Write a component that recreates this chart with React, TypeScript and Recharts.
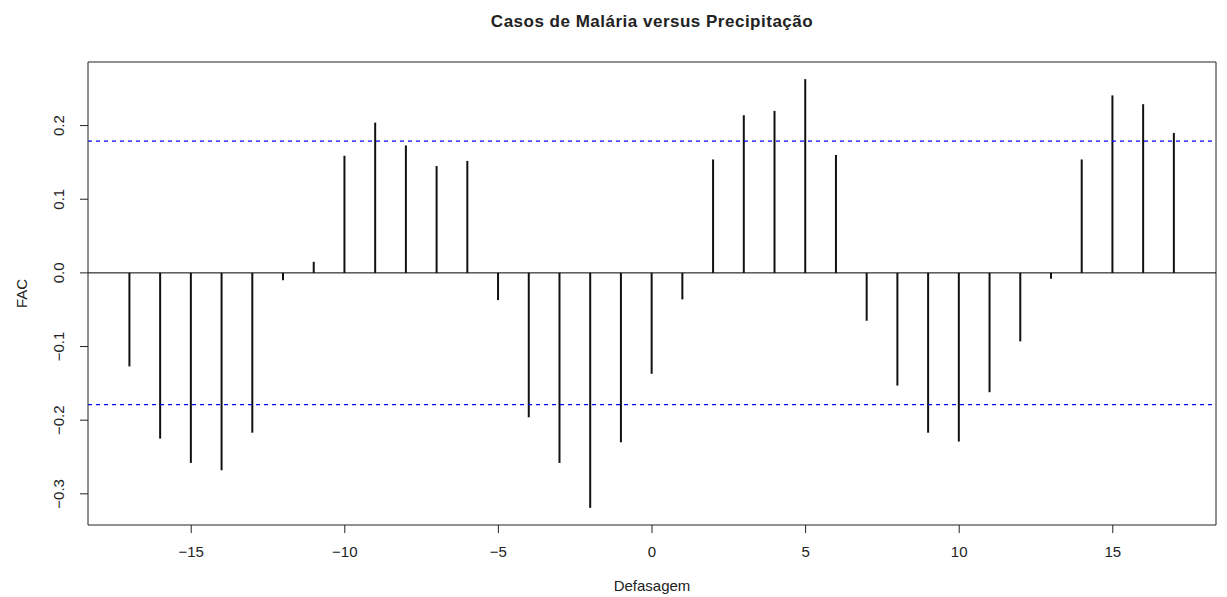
import React from "react";
import {
  ComposedChart,
  Bar,
  XAxis,
  YAxis,
  ReferenceLine,
} from "recharts";

const title = "Casos de Malária versus Precipitação";
const xLabel = "Defasagem";
const yLabel = "FAC";

const lags = [
  -17, -16, -15, -14, -13, -12, -11, -10, -9, -8, -7, -6, -5, -4, -3, -2, -1,
  0, 1, 2, 3, 4, 5, 6, 7, 8, 9, 10, 11, 12, 13, 14, 15, 16, 17,
];

const facValues = [
  -0.127, -0.225, -0.258, -0.268, -0.217, -0.01, 0.015, 0.159, 0.204, 0.173,
  0.145, 0.152, -0.037, -0.196, -0.258, -0.319, -0.23, -0.137, -0.036, 0.154,
  0.214, 0.22, 0.263, 0.16, -0.065, -0.153, -0.217, -0.229, -0.162, -0.093,
  -0.008, 0.154, 0.241, 0.229, 0.19,
];

const confidenceLimit = 0.179;

const xTicks = [-15, -10, -5, 0, 5, 10, 15];
const yTicks = [-0.3, -0.2, -0.1, 0.0, 0.1, 0.2];

const xDomain: [number, number] = [-18.36, 18.36];
const yDomain: [number, number] = [-0.3423, 0.2863];

const data = lags.map((lag, i) => ({ lag, fac: facValues[i] }));

const FONT = "'Liberation Sans', Arial, Helvetica, sans-serif";
const AXIS_COLOR = "#222";

const fmtNum = (v: number, digits: number) => {
  const s = Math.abs(v).toFixed(digits);
  return v < -1e-9 ? "\u2212" + s : s;
};

const YTick = (props: any) => {
  const { x, y, payload } = props;
  const tx = x - 14;
  return (
    <text
      x={tx}
      y={y}
      transform={`rotate(-90 ${tx} ${y})`}
      textAnchor="middle"
      fontSize={15}
      fontFamily={FONT}
      fill="#222"
    >
      {fmtNum(payload.value, 1)}
    </text>
  );
};

export default function App() {
  return (
    <div
      style={{
        position: "absolute",
        left: 0,
        top: 0,
        width: 1227,
        height: 597,
        background: "#fff",
        fontFamily: FONT,
      }}
    >
      <ComposedChart
        width={1227}
        height={597}
        data={data}
        margin={{ top: 62, right: 11, bottom: 0, left: 0 }}
      >
        <XAxis
          dataKey="lag"
          type="number"
          domain={xDomain}
          allowDataOverflow
          ticks={xTicks}
          height={72}
          tickSize={8}
          tickMargin={13}
          tickFormatter={(v: number) => fmtNum(v, 0)}
          tick={{ fontSize: 15, fill: "#222", fontFamily: FONT }}
          stroke={AXIS_COLOR}
          tickLine={{ stroke: AXIS_COLOR }}
          axisLine={{ stroke: AXIS_COLOR }}
          label={{
            value: xLabel,
            position: "insideBottom",
            offset: 6,
            fontSize: 15,
            fill: "#222",
            fontFamily: FONT,
          }}
        />
        <YAxis
          type="number"
          domain={yDomain}
          allowDataOverflow
          ticks={yTicks}
          width={88}
          tickSize={8}
          tickMargin={2}
          tick={<YTick />}
          stroke={AXIS_COLOR}
          tickLine={{ stroke: AXIS_COLOR }}
          axisLine={{ stroke: AXIS_COLOR }}
        />
        <ReferenceLine y={yDomain[1]} stroke={AXIS_COLOR} strokeWidth={1} />
        <ReferenceLine x={xDomain[1]} stroke={AXIS_COLOR} strokeWidth={1} />
        <ReferenceLine y={0} stroke="#000" strokeWidth={1} />
        <ReferenceLine
          y={confidenceLimit}
          stroke="#0000ff"
          strokeWidth={1.3}
          strokeDasharray="4 4"
        />
        <ReferenceLine
          y={-confidenceLimit}
          stroke="#0000ff"
          strokeWidth={1.3}
          strokeDasharray="4 4"
        />
        <Bar
          dataKey="fac"
          fill="#111"
          barSize={2}
          isAnimationActive={false}
        />
        <text
          x={652}
          y={27}
          textAnchor="middle"
          fontSize={17}
          fontWeight="bold"
          letterSpacing={0.5}
          fontFamily={FONT}
          fill="#222"
        >
          {title}
        </text>
        <text
          x={27}
          y={293.5}
          transform="rotate(-90 27 293.5)"
          textAnchor="middle"
          fontSize={15}
          fontFamily={FONT}
          fill="#222"
        >
          {yLabel}
        </text>
      </ComposedChart>
    </div>
  );
}
